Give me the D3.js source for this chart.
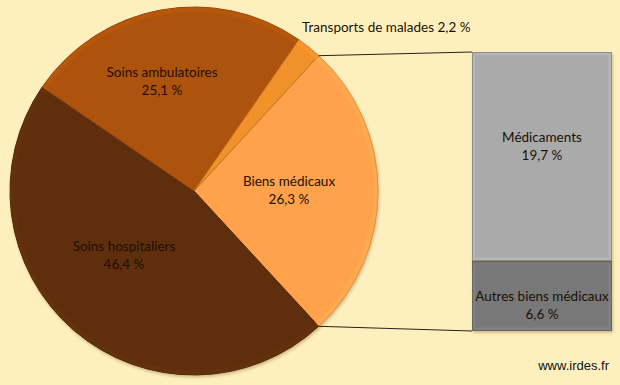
<!DOCTYPE html>
<html>
<head>
<meta charset="utf-8">
<script src="https://cdn.jsdelivr.net/npm/d3@7"></script>
<style>
  body { margin: 0; background: #fef0be; }
  svg { display: block; }
  .lbl { font-family: Lato, "Open Sans", sans-serif; font-size: 13.5px; fill: #1c1005; }
  .src { font-family: "Liberation Sans", Arial, sans-serif; font-size: 13px; fill: #111; }
</style>
</head>
<body>
<svg id="chart"></svg>
<script>
// pie: dépenses par poste (%)
const pieCats = ['Biens médicaux', 'Soins hospitaliers', 'Soins ambulatoires', 'Transports de malades']
const pieValues = [26.3, 46.4, 25.1, 2.2]
// barre : détail des biens médicaux (%)
const barCats = ['Autres biens médicaux', 'Médicaments']
const barValues = [6.6, 19.7]

const W = 620, H = 385
const $svg = d3.select('#chart').attr('width', W).attr('height', H)

$svg.append('rect').attr('width', W).attr('height', H).attr('fill', '#fef0be')

const defs = $svg.append('defs')
const shadow = defs.append('filter').attr('id', 'shadow')
  .attr('x', '-10%').attr('y', '-10%').attr('width', '120%').attr('height', '120%')
shadow.append('feDropShadow')
  .attr('dx', 1).attr('dy', 2).attr('stdDeviation', 1.5)
  .attr('flood-color', '#7a5a20').attr('flood-opacity', 0.35)

const pieColor = d3.scaleOrdinal()
  .domain(pieCats)
  .range(['#ffa24c', '#5e2f0c', '#ae530a', '#f0912a'])
const barColor = d3.scaleOrdinal()
  .domain(barCats)
  .range(['#787878', '#aaaaaa'])

// ---- pie
const cx = 194, cy = 191, R = 184
const total = d3.sum(pieValues)
const biensHalf = Math.PI * pieValues[0] / total
const pie = d3.pie().sort(null)
  .startAngle(Math.PI / 2 - biensHalf)
  .endAngle(Math.PI / 2 - biensHalf + 2 * Math.PI)
const pieData = pie(pieValues).map((d, i) => Object.assign(d, { cat: pieCats[i] }))

const arc = d3.arc().innerRadius(0).outerRadius(R)
const rim = d3.arc().innerRadius(R - 5).outerRadius(R)

const $gPie = $svg.append('g').attr('transform', `translate(${cx},${cy})`)
$gPie.append('g').attr('filter', 'url(#shadow)')
  .selectAll('path').data(pieData).enter()
  .append('path')
    .attr('d', arc)
    .attr('fill', d => pieColor(d.cat))
    .attr('stroke', d => d3.color(pieColor(d.cat)).darker(0.6))
    .attr('stroke-width', 1)
// bevel rim
$gPie.selectAll('.rim').data(pieData).enter()
  .append('path')
    .attr('class', 'rim')
    .attr('d', rim)
    .attr('fill', d => d3.color(pieColor(d.cat)).brighter(0.25))
    .attr('opacity', 0.5)

// ---- bar
const yScale = d3.scaleLinear().domain([0, d3.sum(barValues)]).range([331, 52])
const xScale = d3.scaleBand().domain(['Biens médicaux']).range([472, 612])
const stack = d3.stack().keys(barCats)
const row = {}
barCats.forEach((c, i) => { row[c] = barValues[i] })
const series = stack([row])

const $gBar = $svg.append('g')
series.forEach(s => {
  const d = s[0]
  const x0 = xScale('Biens médicaux'), bw = xScale.bandwidth()
  const y0 = yScale(d[1]), h = yScale(d[0]) - yScale(d[1])
  const col = barColor(s.key)
  const g = $gBar.append('g')
  g.append('rect')
    .attr('x', x0).attr('y', y0).attr('width', bw).attr('height', h)
    .attr('fill', col).attr('filter', 'url(#shadow)')
  // bevel
  g.append('rect')
    .attr('x', x0 + 2).attr('y', y0 + 2).attr('width', bw - 4).attr('height', h - 4)
    .attr('fill', 'none').attr('stroke', d3.color(col).brighter(0.3)).attr('stroke-width', 3)
    .attr('opacity', 0.6)
  g.append('rect')
    .attr('x', x0 + 0.5).attr('y', y0 + 0.5).attr('width', bw - 1).attr('height', h - 1)
    .attr('fill', 'none').attr('stroke', d3.color(col).darker(0.5)).attr('stroke-width', 1)
})

// ---- connectors
const biens = pieData[0]
const pt = a => [cx + R * Math.sin(a), cy - R * Math.cos(a)]
const pTop = pt(biens.startAngle), pBot = pt(biens.endAngle)
const line = d3.line()
$svg.append('path')
  .attr('d', line([pTop, [xScale('Biens médicaux'), yScale(d3.sum(barValues))]]))
  .attr('stroke', '#2a2020').attr('fill', 'none')
$svg.append('path')
  .attr('d', line([pBot, [xScale('Biens médicaux'), yScale(0)]]))
  .attr('stroke', '#2a2020').attr('fill', 'none')

// ---- labels
const pieLabels = [
  { cat: 'Biens médicaux', x: 289, y: 186 },
  { cat: 'Soins hospitaliers', x: 124, y: 251 },
  { cat: 'Soins ambulatoires', x: 162, y: 77 }
]
const fmt = v => d3.format('.1f')(v).replace('.', ',') + ' %'
pieLabels.forEach(l => {
  const v = pieValues[pieCats.indexOf(l.cat)]
  const t = $svg.append('text').attr('class', 'lbl').attr('text-anchor', 'middle')
  t.append('tspan').attr('x', l.x).attr('y', l.y).text(l.cat)
  t.append('tspan').attr('x', l.x).attr('dy', 18).text(fmt(v))
})
$svg.append('text').attr('class', 'lbl')
  .attr('x', 302).attr('y', 32)
  .text(`${pieCats[3]} ${fmt(pieValues[3])}`)

// label shift inside each bar segment
const barLabelShift = { 'Médicaments': -14, 'Autres biens médicaux': 5 }
series.forEach(s => {
  const d = s[0]
  const xm = xScale('Biens médicaux') + xScale.bandwidth() / 2
  const ym = (yScale(d[0]) + yScale(d[1])) / 2 + barLabelShift[s.key]
  const t = $svg.append('text').attr('class', 'lbl').attr('text-anchor', 'middle')
  t.append('tspan').attr('x', xm).attr('y', ym).text(s.key)
  t.append('tspan').attr('x', xm).attr('dy', 18).text(fmt(barValues[barCats.indexOf(s.key)]))
})

$svg.append('text').attr('class', 'src')
  .attr('x', 609).attr('y', 370).attr('text-anchor', 'end')
  .text('www.irdes.fr')
</script>
</body>
</html>
